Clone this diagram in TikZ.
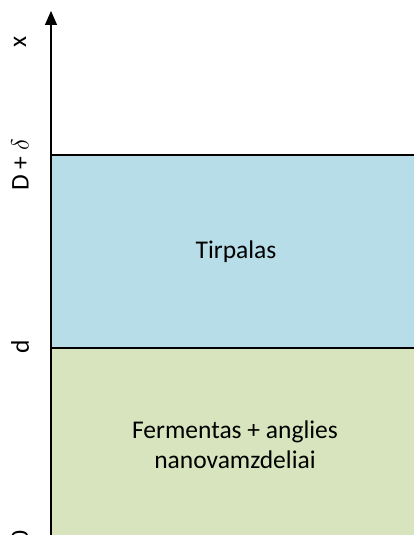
\documentclass[tikz,border=0pt]{standalone}
\usepackage{fontspec}
\setmainfont{Carlito}
\usepackage{tikz}
\usetikzlibrary{arrows.meta,positioning,calc}

\definecolor{solutionblue}{RGB}{183,222,232}
\definecolor{enzymegreen}{RGB}{215,228,189}

\begin{document}
\begin{tikzpicture}[
  x=1pt,y=-1pt,
  layerline/.style={draw=black, line width=1.1pt},
  axisline/.style={
    draw=black,
    line width=1.4pt,
    -{Triangle[length=14pt,width=12pt]}
  },
  axislabel/.style={rotate=90, font=\fontsize{25.5}{25.5}\selectfont, text=black},
  layertext/.style={align=center, font=\fontsize{25.5}{30}\selectfont, text=black},
]
\useasboundingbox (0,0) rectangle (414,535);
\clip (0,0) rectangle (414,535);

% Layers
\fill[solutionblue] (51,155) rectangle (420,348);
\fill[enzymegreen] (51,348) rectangle (420,545);
\draw[layerline] (51,155) -- (420,155);
\draw[layerline] (51,348) -- (420,348);

% Layer texts
\node[layertext] (sol) at (236,252) {Tirpalas};
\node[layertext] (enz) at (235,445) {Fermentas + anglies\\nanovamzdeliai};

% Axis
\coordinate (O) at (51,545);
\coordinate (T) at (51,11);
\draw[axisline] (O) -- (T);

% Axis labels
\node[axislabel] (lx) at (20,42) {x};
\node[axislabel] (lD) at (20,165) {D + $\delta$};
\node[axislabel] (ld) at (20,347) {d};
\node[axislabel] (l0) at (20,537) {0};

\end{tikzpicture}
\end{document}
